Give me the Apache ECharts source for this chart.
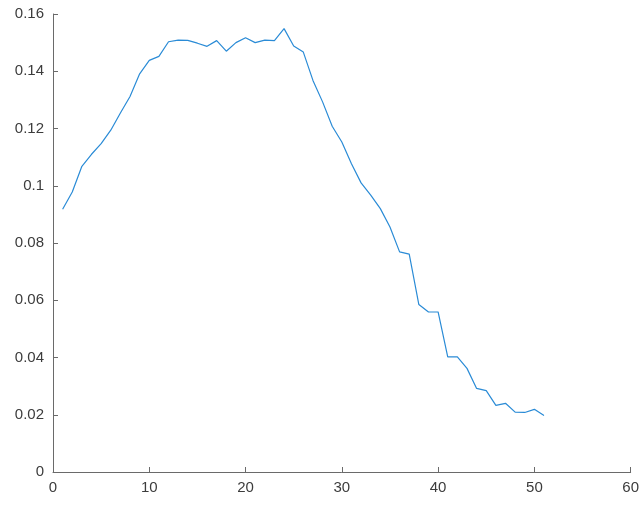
<!DOCTYPE html>
<html>
<head>
<meta charset="utf-8">
<script src="https://cdn.jsdelivr.net/npm/echarts@6/dist/echarts.min.js"></script>
<style>
  html, body { margin: 0; padding: 0; background: #fff; }
  #chart { width: 642px; height: 505px; }
</style>
</head>
<body>
<div id="chart"></div>
<script>
// Sample index along the x axis
const xValues = [1,2,3,4,5,6,7,8,9,10,11,12,13,14,15,16,17,18,19,20,21,22,23,24,25,26,27,28,29,30,31,32,33,34,35,36,37,38,39,40,41,42,43,44,45,46,47,48,49,50,51];
// Measured value at each index
const yValues = [
  0.0918, 0.0978, 0.1068, 0.1110, 0.1147, 0.1194, 0.1254, 0.1312, 0.1391, 0.1438,
  0.1452, 0.1503, 0.1509, 0.1508, 0.1498, 0.1487, 0.1507, 0.1470, 0.1500, 0.1517,
  0.1500, 0.1509, 0.1507, 0.1549, 0.1488, 0.1467, 0.1368, 0.1293, 0.1208, 0.1153,
  0.1077, 0.1010, 0.0967, 0.0920, 0.0856, 0.0769, 0.0761, 0.0585, 0.0559, 0.0559,
  0.0402, 0.0402, 0.0362, 0.0292, 0.0284, 0.0233, 0.0240, 0.0209, 0.0208, 0.0219,
  0.0197
];

const axisColor = '#6a6a6a';
const labelColor = '#3c3c3c';

const chart = echarts.init(document.getElementById('chart'), null, { renderer: 'canvas' });
chart.setOption({
  animation: false,
  backgroundColor: '#ffffff',
  grid: { left: 53, right: 8, top: 14, bottom: 33, containLabel: false },
  xAxis: {
    type: 'value',
    min: 0, max: 60, interval: 10,
    axisLine: { show: true, lineStyle: { color: axisColor, width: 1 } },
    axisTick: { show: true, inside: true, length: 5, lineStyle: { color: axisColor } },
    splitLine: { show: false },
    axisLabel: { color: labelColor, fontSize: 15, fontFamily: 'Liberation Sans, Arial, sans-serif', margin: 8 }
  },
  yAxis: {
    type: 'value',
    min: 0, max: 0.16, interval: 0.02,
    axisLine: { show: true, lineStyle: { color: axisColor, width: 1 } },
    axisTick: { show: true, inside: true, length: 5, lineStyle: { color: axisColor } },
    splitLine: { show: false },
    axisLabel: { color: labelColor, fontSize: 15, fontFamily: 'Liberation Sans, Arial, sans-serif', margin: 9 }
  },
  series: [{
    type: 'line',
    data: xValues.map((x, i) => [x, yValues[i]]),
    showSymbol: false,
    smooth: false,
    lineStyle: { color: '#2a8bd6', width: 1.2 },
    itemStyle: { color: '#2a8bd6' }
  }]
});
</script>
</body>
</html>
